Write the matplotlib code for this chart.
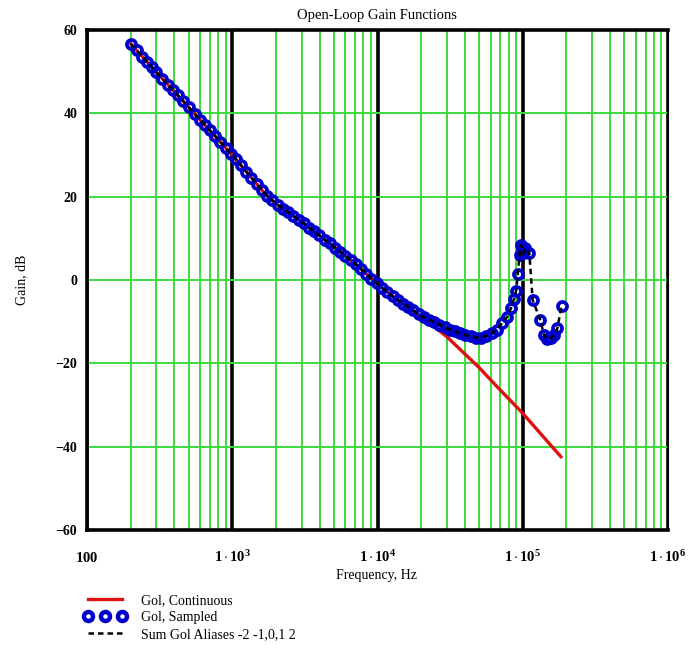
"""Open-loop gain: continuous vs sampled vs alias sum."""

import matplotlib
matplotlib.use("Agg")
import matplotlib.pyplot as plt
from matplotlib.ticker import FixedLocator, NullFormatter

plt.rcParams["font.family"] = ["Liberation Serif", "DejaVu Serif"]
plt.rcParams["mathtext.fontset"] = "custom"
plt.rcParams["mathtext.rm"] = "Liberation Serif"
plt.rcParams["mathtext.bf"] = "Liberation Serif:bold"
plt.rcParams["mathtext.it"] = "Liberation Serif:italic"

# continuous-time open-loop gain
freq_cont = [200, 300, 500, 1000, 1700, 2000, 3000, 5000, 7000, 10000, 13000,
             16000, 20000, 25000, 30000, 50000, 70000, 100000, 140000, 183000]
gain_cont = [56.7, 49.9, 41.5, 30.0, 20.5, 18.3, 14.0, 8.0, 4.0, -1.0, -4.2,
             -6.4, -9.0, -11.4, -13.6, -21.0, -26.4, -32.0, -37.8, -42.4]

# sampled open-loop gain (also the sum of aliases -2..2)
freq_samp = [200, 220, 240, 260, 280, 300, 330, 360, 390, 420, 460, 500, 550,
             600, 650, 700, 760, 830, 900, 980, 1060, 1150, 1250, 1350, 1470,
             1600, 1740, 1890, 2050, 2230, 2420, 2630, 2860, 3100, 3370, 3660,
             3980, 4320, 4690, 5100, 5540, 6010, 6530, 7100, 7710, 8370, 9090,
             9880, 10700, 11700, 12700, 13800, 15000, 16200, 17600, 19200,
             20800, 22600, 24600, 26700, 29000, 31500, 34200, 37100, 40300,
             43800, 47600, 51700, 56100, 61000, 66200, 71900, 78100, 83000,
             87000, 90000, 92500, 95000, 97000, 99000, 100500, 104000, 111000,
             117000, 132000, 140000, 148000, 156000, 165000, 173000, 185000]
gain_samp = [56.7, 55.1, 53.6, 52.3, 51.1, 49.9, 48.3, 46.9, 45.6, 44.4, 42.9,
             41.5, 39.9, 38.5, 37.1, 35.9, 34.6, 33.1, 31.7, 30.3, 29.0, 27.5,
             26.0, 24.6, 23.1, 21.6, 20.2, 19.1, 18.0, 17.1, 16.3, 15.4, 14.5,
             13.6, 12.6, 11.7, 10.7, 9.7, 8.8, 7.8, 6.8, 5.8, 4.8, 3.8, 2.6,
             1.5, 0.3, -0.8, -1.8, -2.9, -3.9, -4.8, -5.7, -6.4, -7.3, -8.2,
             -8.9, -9.5, -10.1, -10.7, -11.3, -11.9, -12.3, -12.8, -13.2,
             -13.5, -13.8, -13.8, -13.4, -12.8, -11.9, -10.4, -8.8, -6.8,
             -4.5, -2.6, 1.5, 6.0, 8.4, 7.8, 6.4, 7.6, 6.4, -4.8, -9.6, -13.2,
             -14.2, -14.0, -13.2, -11.6, -6.2]
gain_alias = gain_samp

xticks = [100, 1e3, 1e4, 1e5, 1e6]
xtick_labels = [r"$\mathbf{100}$", r"$\mathbf{1\cdot10^{3}}$",
                r"$\mathbf{1\cdot10^{4}}$", r"$\mathbf{1\cdot10^{5}}$",
                r"$\mathbf{1\cdot10^{6}}$"]
yticks = [-60, -40, -20, 0, 20, 40, 60]

GREEN = "#3ddc3d"
BLUE = "#0000cc"

fig = plt.figure(figsize=(6.89, 6.55), dpi=100)
ax = fig.add_axes([87 / 689, 1 - 530 / 655, 581 / 689, 500 / 655])

ax.set_xscale("log")
ax.set_xlim(100, 1e6)
ax.set_ylim(-60, 60)

ax.xaxis.set_major_locator(FixedLocator(xticks))
minors = [m * 10 ** d for d in range(2, 6) for m in range(2, 10)]
ax.xaxis.set_minor_locator(FixedLocator(minors))
ax.xaxis.set_minor_formatter(NullFormatter())
ax.set_xticks(xticks, xtick_labels)
ax.set_yticks(yticks)
ax.set_yticklabels([f"{v}".replace("-", "\u2212") for v in yticks],
                   fontweight="bold")

ax.grid(which="minor", axis="x", color=GREEN, lw=1.4)
ax.grid(which="major", axis="x", color="black", lw=2.6)
ax.grid(which="major", axis="y", color=GREEN, lw=1.4)
ax.set_axisbelow(True)

ax.tick_params(which="both", length=0)
ax.tick_params(axis="y", pad=7, labelsize=10)
ax.tick_params(axis="x", pad=23, labelsize=10.5)
for lbl in ax.get_xticklabels():
    lbl.set_va("baseline")

for side in ("left", "bottom", "top"):
    ax.spines[side].set_linewidth(2.6)
ax.spines["right"].set_linewidth(1.5)

ln_cont, = ax.plot(freq_cont, gain_cont, color="#e01010", lw=2.4, zorder=3)
ln_samp, = ax.plot(freq_samp, gain_samp, ls="none", marker="o", ms=6.5,
                   mfc="none", mec=BLUE, mew=2.7, zorder=4)
ln_alias, = ax.plot(freq_samp, gain_alias, color="black", lw=1.8,
                    ls=(0, (2.2, 1.6)), zorder=5)

fig.text(377 / 689, 1 - 16 / 655, "Open-Loop Gain Functions",
         ha="center", va="center", fontsize=10.5)
fig.text(377 / 689, 1 - 575 / 655, "Frequency, Hz",
         ha="center", va="center", fontsize=10)
fig.text(22 / 689, 1 - 280 / 655, "Gain, dB", rotation=90,
         ha="center", va="center", fontsize=10)

leg_samp = ax.plot([], [], ls="none", marker="o", ms=6.5, mfc="white",
                   mec=BLUE, mew=3.2)[0]
fig.legend([ln_cont, leg_samp, ln_alias],
           ["Gol, Continuous", "Gol, Sampled", "Sum Gol Aliases -2 -1,0,1 2"],
           loc="upper left", bbox_to_anchor=(84 / 689, 1 - 594 / 655),
           frameon=False, fontsize=10, numpoints=3, handlelength=3.0,
           handletextpad=1.1, labelspacing=0.3, borderpad=0,
           borderaxespad=0)

fig.savefig("out.png", dpi=100)
